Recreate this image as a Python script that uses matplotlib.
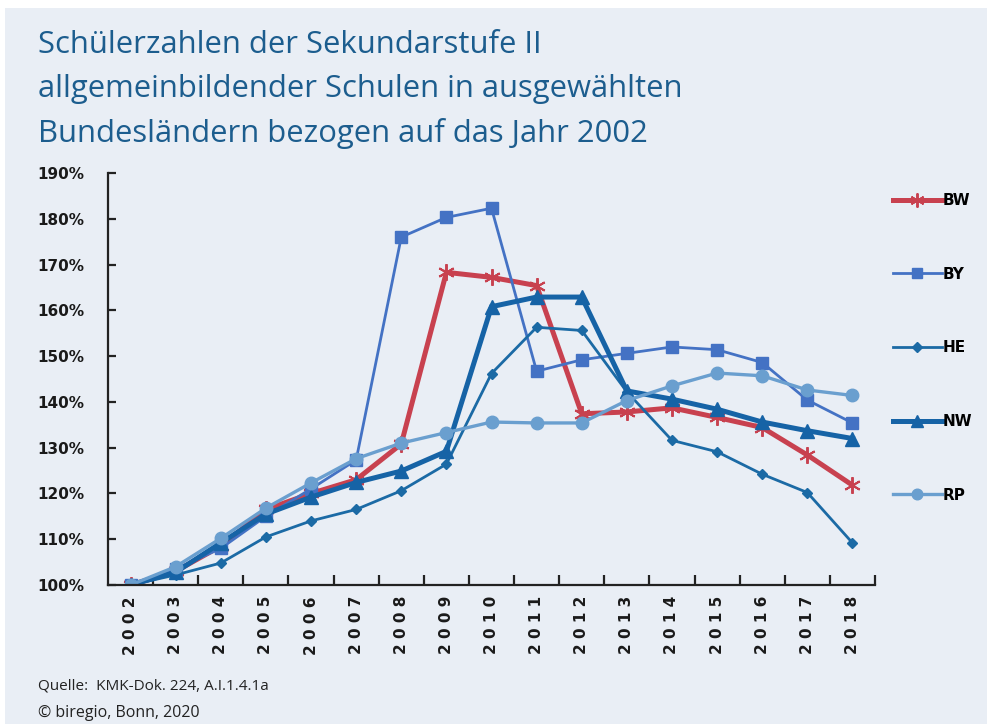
import matplotlib.pyplot as plt
from matplotlib.patches import Rectangle
from matplotlib.ticker import FixedLocator, FuncFormatter

years = list(range(2002, 2019))

bw = [100, 103, 108.5, 116.5, 120, 123, 130.8, 168.3, 167.2, 165.4, 137.4, 137.8, 138.7, 136.6, 134.4, 128.4, 121.8]
by = [100, 103.5, 108, 115, 121, 127.3, 176, 180.3, 182.3, 146.7, 149.2, 150.6, 152, 151.4, 148.6, 140.4, 135.4]
he = [100, 102.2, 104.8, 110.5, 114, 116.5, 120.6, 126.4, 146.2, 156.3, 155.6, 142.2, 131.6, 129.1, 124.2, 120.2, 109.2]
nw = [100, 102.8, 109.2, 115.5, 119.2, 122.4, 124.9, 129.2, 160.8, 162.9, 162.9, 142.4, 140.6, 138.4, 135.6, 133.7, 132]
rp = [100, 104, 110.2, 116.8, 122.3, 127.6, 131, 133.3, 135.6, 135.4, 135.4, 140.3, 143.5, 146.3, 145.7, 142.6, 141.4]

y_ticks = [100, 110, 120, 130, 140, 150, 160, 170, 180, 190]

title_color = '#1c5d8e'
bg = '#e9eef5'

fig = plt.figure(figsize=(9.9, 7.24), dpi=100)
fig.patch.set_facecolor('white')
fig.patches.append(Rectangle((5 / 990, 0), 982 / 990, 1 - 8 / 724, transform=fig.transFigure,
                             facecolor=bg, edgecolor='none', zorder=-10))

ax = fig.add_axes([108 / 990, 1 - 585 / 724, 767 / 990, 412 / 724])
ax.set_facecolor('none')

x = list(range(len(years)))
series = [
    ('BW', bw, '#c8414f', (6, 2, 0), 3.6, 12, 1.4),
    ('BY', by, '#4472c4', 's', 2.0, 9, 1),
    ('HE', he, '#1b6aa5', 'D', 2.0, 5.5, 1),
    ('NW', nw, '#1663a6', '^', 3.6, 10, 1),
    ('RP', rp, '#6a9fcf', 'o', 2.4, 9, 1),
]
for name, vals, col, mk, lw, ms, mew in series:
    ax.plot(x, vals, color=col, marker=mk, lw=lw, ms=ms, mew=mew,
            mec=col, mfc=col, label=name, solid_joinstyle='miter')

ax.set_xlim(-0.5, len(years) - 0.5)
ax.set_ylim(100, 190)
ax.spines['top'].set_visible(False)
ax.spines['right'].set_visible(False)
for s in ['left', 'bottom']:
    ax.spines[s].set_linewidth(1.6)
    ax.spines[s].set_color('#222222')

ax.set_yticks(y_ticks)
ax.yaxis.set_major_formatter(FuncFormatter(lambda v, p: f'{int(v)}%'))
ax.tick_params(axis='y', direction='in', length=6, width=1.6, color='#222222',
               labelsize=11, pad=17)
ax.tick_params(axis='x', which='major', length=0, labelsize=11, pad=8)
ax.xaxis.set_minor_locator(FixedLocator([i + 0.5 for i in range(len(years))]))
ax.tick_params(axis='x', which='minor', direction='in', length=7, width=1.6, color='#222222')
ax.set_xticks(x)
ax.set_xticklabels([' '.join(str(y)) for y in years], rotation=90)
for lab in ax.get_xticklabels() + ax.get_yticklabels():
    lab.set_fontweight('bold')
    lab.set_color('#1a1a1a')
for lab in ax.get_yticklabels():
    lab.set_horizontalalignment('right')

leg = ax.legend(loc='upper left', bbox_to_anchor=(893 / 990, 1 - 193 / 724),
                bbox_transform=fig.transFigure, frameon=False, fontsize=11,
                handlelength=3.2, handletextpad=0.05, labelspacing=3.84,
                borderpad=0, borderaxespad=0, markerscale=0.85)
for t in leg.get_texts():
    t.set_fontweight('bold')

title = ('Schülerzahlen der Sekundarstufe II\n'
         'allgemeinbildender Schulen in ausgewählten\n'
         'Bundesländern bezogen auf das Jahr 2002')
fig.text(38 / 990, 1 - 30 / 724, title, ha='left', va='top', fontsize=22.3,
         color=title_color, family='Open Sans', linespacing=1.6)

fig.text(38 / 990, 1 - 686 / 724, 'Quelle:  KMK-Dok. 224, A.I.1.4.1a', ha='left', va='center',
         fontsize=11, color='#222222', family='Open Sans')
fig.text(38 / 990, 1 - 713 / 724, '© biregio, Bonn, 2020', ha='left', va='center',
         fontsize=11.5, color='#222222', family='Open Sans')

fig.savefig('out.png', dpi=100)
